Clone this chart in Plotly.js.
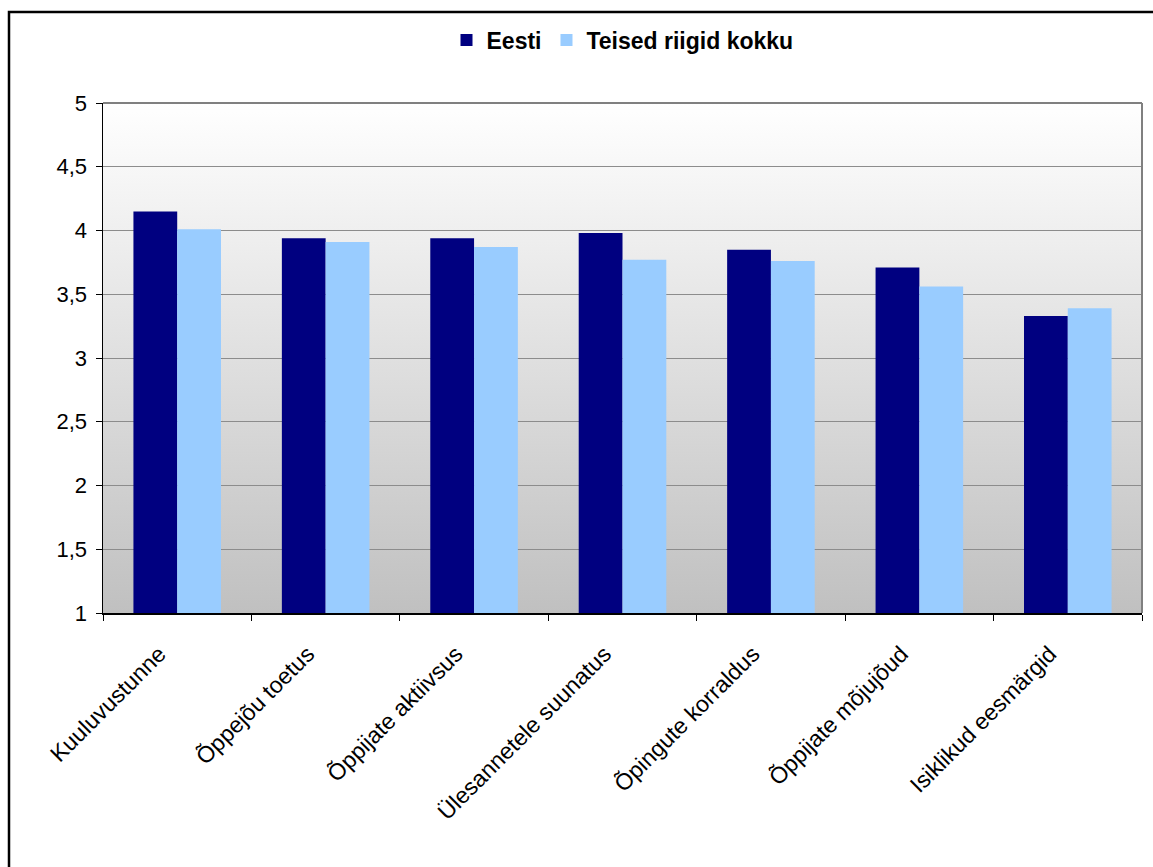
<!DOCTYPE html>
<html>
<head>
<meta charset="utf-8">
<script src="https://cdn.plot.ly/plotly-3.0.1.min.js"></script>
<style>html,body{margin:0;padding:0;background:#fff;}#chart{width:1153px;height:867px;}</style>
</head>
<body>
<div id="chart"></div>
<script>
const categories = ["Kuuluvustunne", "Õppejõu toetus", "Õppijate aktiivsus", "Ülesannetele suunatus", "Õpingute korraldus", "Õppijate mõjujõud", "Isiklikud eesmärgid"];
const eesti = [4.15, 3.94, 3.94, 3.98, 3.85, 3.71, 3.33];
const teised = [4.01, 3.91, 3.87, 3.77, 3.76, 3.56, 3.39];
const yTicks = [1, 1.5, 2, 2.5, 3, 3.5, 4, 4.5, 5];
const baseValue = 1;

const L = 103, R = 11, T = 103, B = 254, W = 1153, H = 867;
const pw = W - L - R, ph = H - T - B;
const px = v => (v - L) / pw;
const py = v => (H - B - v) / ph;

const grad = 'data:image/svg+xml;utf8,' + encodeURIComponent(
  '<svg xmlns="http://www.w3.org/2000/svg" width="100" height="100" preserveAspectRatio="none">' +
  '<defs><linearGradient id="g" x1="0" y1="0" x2="0" y2="1">' +
  '<stop offset="0" stop-color="#ffffff"/><stop offset="1" stop-color="#c0c0c0"/>' +
  '</linearGradient></defs><rect width="100" height="100" fill="url(#g)"/></svg>');

const FONT = 'Liberation Sans, Arial, sans-serif';

const data = [
  {type: 'bar', name: 'Eesti', x: categories, y: eesti.map(v => v - baseValue), base: baseValue,
   marker: {color: '#000080', line: {width: 0}}},
  {type: 'bar', name: 'Teised riigid kokku', x: categories, y: teised.map(v => v - baseValue), base: baseValue,
   marker: {color: '#99ccff', line: {width: 0}}}
];

const layout = {
  width: W, height: H,
  margin: {l: L, r: R, t: T, b: B},
  paper_bgcolor: '#ffffff',
  plot_bgcolor: 'rgba(0,0,0,0)',
  separators: ',.',
  font: {family: FONT, size: 22, color: '#000'},
  barmode: 'group', bargap: 0.41, bargroupgap: 0,
  showlegend: true,
  legend: {orientation: 'h', x: 0.5, xanchor: 'center', y: py(40), yanchor: 'middle',
           font: {family: FONT, size: 23, color: '#000', weight: 'bold'},
           itemwidth: 30, tracegroupgap: 0, bgcolor: 'rgba(0,0,0,0)'},
  xaxis: {type: 'category', tickangle: -45, tickson: 'boundaries', ticks: 'outside', ticklen: 6,
          tickcolor: '#000', showline: true, linecolor: '#000', linewidth: 1.5,
          showgrid: false, zeroline: false, automargin: false,
          ticklabelshift: -18, ticklabelstandoff: 17,
          tickfont: {size: 23, family: FONT}},
  yaxis: {range: [1, 5], tickvals: yTicks, ticks: 'outside', ticklen: 6, tickcolor: '#000',
          showline: true, linecolor: '#000', linewidth: 1.5, showgrid: true, gridcolor: '#8c8c8c',
          gridwidth: 1, zeroline: false, automargin: false, ticklabelstandoff: 4,
          tickfont: {size: 22, family: FONT}},
  images: [{source: grad, xref: 'paper', yref: 'paper', x: 0, y: 1, sizex: 1, sizey: 1,
            xanchor: 'left', yanchor: 'top', sizing: 'stretch', layer: 'below'}],
  shapes: [
    {type: 'line', xref: 'paper', yref: 'paper', x0: 0, x1: 1, y0: 1, y1: 1, line: {color: '#808080', width: 2}},
    {type: 'line', xref: 'paper', yref: 'paper', x0: 1, x1: 1, y0: 0, y1: 1, line: {color: '#808080', width: 2}},
    {type: 'rect', xref: 'paper', yref: 'paper', x0: px(9), x1: px(1170), y0: py(12), y1: py(900),
     line: {color: '#000', width: 2.5}, fillcolor: 'rgba(0,0,0,0)', layer: 'above'}
  ]
};

Plotly.newPlot('chart', data, layout, {displayModeBar: false, staticPlot: true});
</script>
</body>
</html>
